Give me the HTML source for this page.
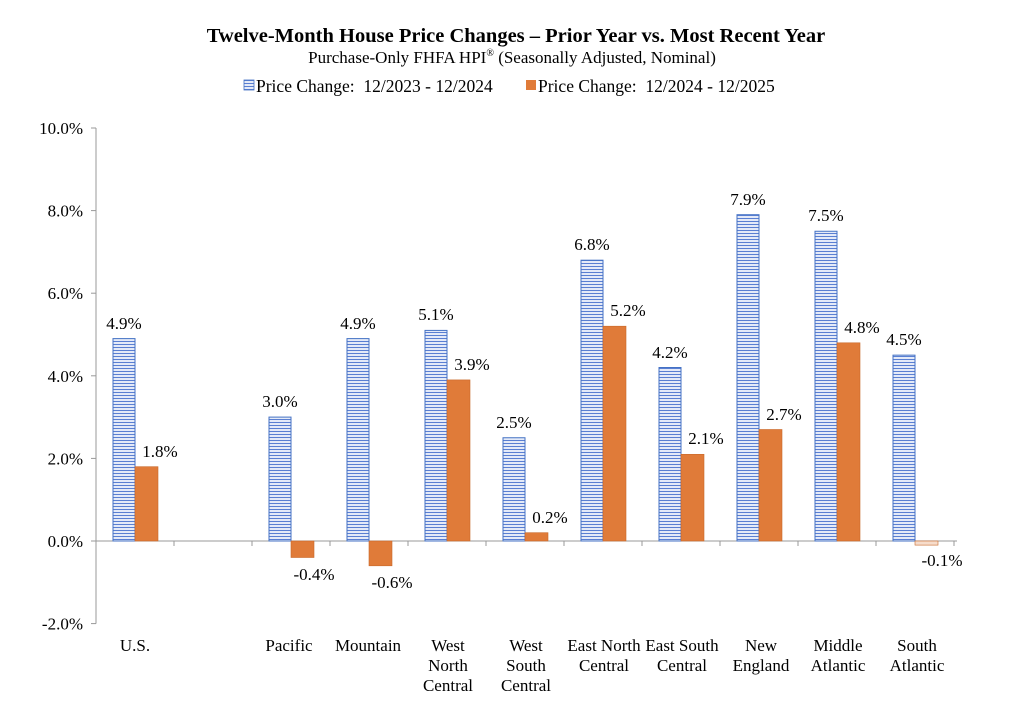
<!DOCTYPE html>
<html><head><meta charset="utf-8"><style>
body{margin:0;background:#fff;}
svg{display:block;font-family:"Liberation Serif",serif;}
</style></head><body>
<svg width="1024" height="705" viewBox="0 0 1024 705" xmlns="http://www.w3.org/2000/svg">
<defs>
<pattern id="st" width="4" height="3" patternUnits="userSpaceOnUse">
<rect width="4" height="3" fill="#e4eaf8"/>
<rect y="2" width="4" height="1" fill="#5a7fd2"/>
</pattern>
</defs>
<text x="516" y="42" text-anchor="middle" font-size="20.5" font-weight="bold">Twelve-Month House Price Changes – Prior Year vs. Most Recent Year</text>
<text x="512" y="63" text-anchor="middle" font-size="17">Purchase-Only FHFA HPI<tspan font-size="10" dy="-7">®</tspan><tspan dy="7"> (Seasonally Adjusted, Nominal)</tspan></text>
<rect x="244" y="80" width="10" height="10" fill="url(#st)" stroke="#4472c4" stroke-width="0.8"/>
<text x="256" y="92" font-size="17.5" xml:space="preserve">Price Change:  12/2023 - 12/2024</text>
<rect x="526" y="80" width="10" height="10" fill="#e07b39"/>
<text x="538" y="92" font-size="17.5" xml:space="preserve">Price Change:  12/2024 - 12/2025</text>
<g stroke="#999" stroke-width="1" fill="none">
<line x1="96" y1="128" x2="96" y2="623.6"/>
<line x1="96" y1="541" x2="957" y2="541"/>
<line x1="91" y1="128" x2="96" y2="128"/><line x1="91" y1="210.6" x2="96" y2="210.6"/><line x1="91" y1="293.2" x2="96" y2="293.2"/><line x1="91" y1="375.8" x2="96" y2="375.8"/><line x1="91" y1="458.4" x2="96" y2="458.4"/><line x1="91" y1="541" x2="96" y2="541"/><line x1="91" y1="623.6" x2="96" y2="623.6"/>
<line x1="174" y1="541" x2="174" y2="546"/><line x1="252" y1="541" x2="252" y2="546"/><line x1="330" y1="541" x2="330" y2="546"/><line x1="408" y1="541" x2="408" y2="546"/><line x1="486" y1="541" x2="486" y2="546"/><line x1="564" y1="541" x2="564" y2="546"/><line x1="642" y1="541" x2="642" y2="546"/><line x1="720" y1="541" x2="720" y2="546"/><line x1="798" y1="541" x2="798" y2="546"/><line x1="876" y1="541" x2="876" y2="546"/><line x1="954" y1="541" x2="954" y2="546"/>
</g>
<g font-size="17" text-anchor="end">
<text x="83" y="134">10.0%</text><text x="83" y="216.6">8.0%</text><text x="83" y="299.2">6.0%</text><text x="83" y="381.8">4.0%</text><text x="83" y="464.4">2.0%</text><text x="83" y="547">0.0%</text><text x="83" y="629.6">-2.0%</text>
</g>
<g fill="url(#st)" stroke="#4472c4" stroke-width="1">
<rect x="113" y="338.6" width="22" height="202.4"/>
<rect x="269" y="417.1" width="22" height="123.9"/>
<rect x="347" y="338.6" width="22" height="202.4"/>
<rect x="425" y="330.4" width="22" height="210.6"/>
<rect x="503" y="437.75" width="22" height="103.25"/>
<rect x="581" y="260.2" width="22" height="280.8"/>
<rect x="659" y="367.5" width="22" height="173.5"/>
<rect x="737" y="214.7" width="22" height="326.3"/>
<rect x="815" y="231.25" width="22" height="309.75"/>
<rect x="893" y="355.15" width="22" height="185.85"/>
</g>
<g fill="#e07b39" stroke="#c9682a" stroke-width="0.6">
<rect x="135" y="466.7" width="23" height="74.3"/>
<rect x="291" y="541" width="23" height="16.5"/>
<rect x="369" y="541" width="23" height="24.8"/>
<rect x="447" y="379.9" width="23" height="161.1"/>
<rect x="525" y="532.7" width="23" height="8.3"/>
<rect x="603" y="326.2" width="23" height="214.8"/>
<rect x="681" y="454.3" width="23" height="86.7"/>
<rect x="759" y="429.5" width="23" height="111.5"/>
<rect x="837" y="342.8" width="23" height="198.2"/>
<rect x="915" y="541" width="23" height="4.1" fill="#f6dccb"/>
</g>
<g font-size="17" text-anchor="middle">
<text x="124" y="329">4.9%</text><text x="160" y="457">1.8%</text>
<text x="280" y="407">3.0%</text><text x="314" y="580">-0.4%</text>
<text x="358" y="329">4.9%</text><text x="392" y="588">-0.6%</text>
<text x="436" y="320">5.1%</text><text x="472" y="370">3.9%</text>
<text x="514" y="428">2.5%</text><text x="550" y="523">0.2%</text>
<text x="592" y="250">6.8%</text><text x="628" y="316">5.2%</text>
<text x="670" y="358">4.2%</text><text x="706" y="444">2.1%</text>
<text x="748" y="205">7.9%</text><text x="784" y="420">2.7%</text>
<text x="826" y="221">7.5%</text><text x="862" y="333">4.8%</text>
<text x="904" y="345">4.5%</text><text x="942" y="566">-0.1%</text>
</g>
<g font-size="17" text-anchor="middle">
<text x="135" y="651">U.S.</text>
<text x="289" y="651">Pacific</text>
<text x="368" y="651">Mountain</text>
<text x="448" y="651">West</text><text x="448" y="671">North</text><text x="448" y="691">Central</text>
<text x="526" y="651">West</text><text x="526" y="671">South</text><text x="526" y="691">Central</text>
<text x="604" y="651">East North</text><text x="604" y="671">Central</text>
<text x="682" y="651">East South</text><text x="682" y="671">Central</text>
<text x="761" y="651">New</text><text x="761" y="671">England</text>
<text x="838" y="651">Middle</text><text x="838" y="671">Atlantic</text>
<text x="917" y="651">South</text><text x="917" y="671">Atlantic</text>
</g>
</svg>
</body></html>
